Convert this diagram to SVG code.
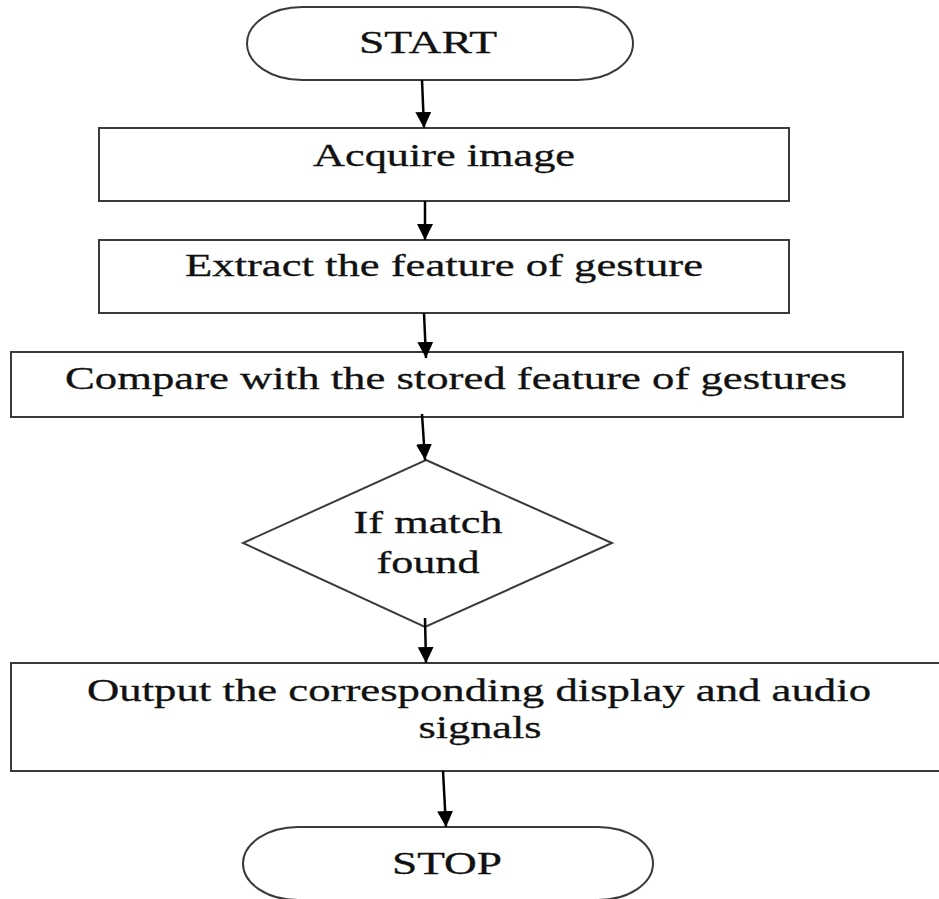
<svg xmlns="http://www.w3.org/2000/svg" width="939" height="899" viewBox="0 0 939 899">
<defs>
<style>
.shape{fill:#fff;stroke:#3a3a3a;stroke-width:2}
.lbl{font-family:"Liberation Serif","Times New Roman",serif;font-size:32px;fill:#111;stroke:#111;stroke-width:0.3;text-anchor:middle}
.conn{stroke:#000;stroke-width:2.5;fill:none}
</style>
<marker id="ah" markerUnits="userSpaceOnUse" markerWidth="16" markerHeight="16" viewBox="0 0 16 16" refX="16" refY="8" orient="auto">
<path d="M0,0 L16,8 L0,16 Z" fill="#000"/>
</marker>
</defs>
<rect width="939" height="899" fill="#fff"/>
<g id="start">
<rect class="shape" x="247" y="7" width="386" height="73" rx="55" ry="36.5"/>
<text class="lbl" x="428" y="53" textLength="138" lengthAdjust="spacingAndGlyphs">START</text>
</g>
<g id="acquire">
<rect class="shape" x="99" y="128" width="690" height="73"/>
<text class="lbl" x="444" y="166" textLength="262" lengthAdjust="spacingAndGlyphs">Acquire image</text>
</g>
<g id="extract">
<rect class="shape" x="99" y="240" width="690" height="73"/>
<text class="lbl" x="444" y="276" textLength="518" lengthAdjust="spacingAndGlyphs">Extract the feature of gesture</text>
</g>
<g id="compare">
<rect class="shape" x="11" y="352" width="892" height="65"/>
<text class="lbl" x="456" y="389" textLength="782" lengthAdjust="spacingAndGlyphs">Compare with the stored feature of gestures</text>
</g>
<g id="decision">
<polygon class="shape" points="426,460 612,543 425,627 243,543"/>
<text class="lbl" x="428" y="533" textLength="149" lengthAdjust="spacingAndGlyphs">If match</text>
<text class="lbl" x="428" y="573" textLength="103" lengthAdjust="spacingAndGlyphs">found</text>
</g>
<g id="output">
<rect class="shape" x="11" y="663" width="940" height="108"/>
<text class="lbl" x="479" y="701" textLength="784" lengthAdjust="spacingAndGlyphs">Output the corresponding display and audio</text>
<text class="lbl" x="480" y="738" textLength="123" lengthAdjust="spacingAndGlyphs">signals</text>
</g>
<g id="stop">
<rect class="shape" x="243" y="827" width="410" height="73" rx="55" ry="36.5"/>
<text class="lbl" x="447" y="874" textLength="110" lengthAdjust="spacingAndGlyphs">STOP</text>
</g>
<g id="connectors">
<line class="conn" x1="422" y1="80" x2="424" y2="128" marker-end="url(#ah)"/>
<line class="conn" x1="425" y1="201" x2="425" y2="240" marker-end="url(#ah)"/>
<line class="conn" x1="424" y1="313" x2="426" y2="358" marker-end="url(#ah)"/>
<line class="conn" x1="422" y1="414" x2="425" y2="460" marker-end="url(#ah)"/>
<line class="conn" x1="425" y1="618" x2="426" y2="663" marker-end="url(#ah)"/>
<line class="conn" x1="443" y1="771" x2="446" y2="827" marker-end="url(#ah)"/>
</g>
</svg>
